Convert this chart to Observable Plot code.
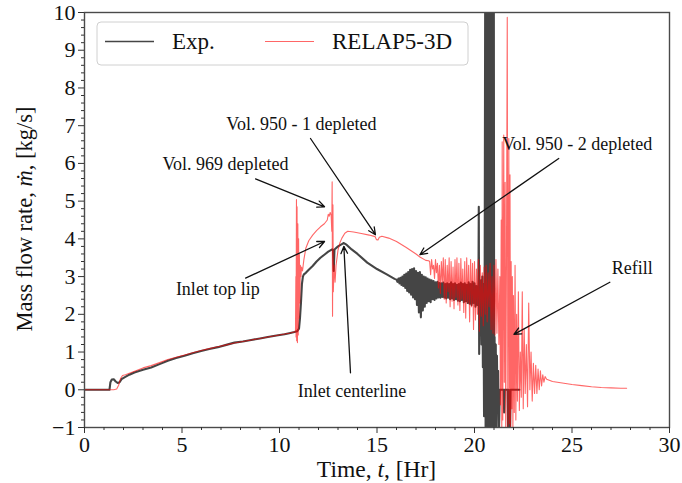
<!DOCTYPE html>
<html><head><meta charset="utf-8">
<script src="https://cdn.jsdelivr.net/npm/d3@7"></script>
<script src="https://cdn.jsdelivr.net/npm/@observablehq/plot@0.6"></script>
<style>body{margin:0;background:#fff;} svg{display:block;} svg text{font-family:'Liberation Serif','Times New Roman',serif;}</style>
</head><body><div id="chart"></div>
<script>
// ---- Data (time [Hr], mass flow rate [kg/s]) ----
const expPoints = [
 [0,0],[0.5,0],[1.0,0],[1.28,0],[1.33,0.2],[1.4,0.27],[1.5,0.28],[1.6,0.22],[1.7,0.18],[1.8,0.2],[1.9,0.28],[2.05,0.33],[2.3,0.4],[2.56,0.46],[3.0,0.53],[3.42,0.59],[3.85,0.68],[4.27,0.77],[4.7,0.84],[5.13,0.9],[5.55,0.97],[5.98,1.03],[6.4,1.08],[6.84,1.13],[7.27,1.19],[7.69,1.25],[8.12,1.28],[8.55,1.32],[9.0,1.36],[9.4,1.4],[9.85,1.44],[10.26,1.47],[10.5,1.5],[10.77,1.53],[10.9,1.55],[11.0,1.62],[11.05,1.9],[11.1,2.3],[11.15,2.8],[11.2,3.0],[11.25,3.06],[11.35,3.1],[11.5,3.18],[11.7,3.28],[11.9,3.4],[12.1,3.5],[12.3,3.58],[12.5,3.66],[12.7,3.72],[12.75,3.7],[12.78,3.15],[12.82,3.72],[13.0,3.8],[13.2,3.86],[13.3,3.89],[13.45,3.84],[13.7,3.72],[14.0,3.6],[14.5,3.37],[15.0,3.2],[15.5,3.06],[15.9,2.94],
 [16.00,2.92],[16.05,2.86],[16.10,2.95],[16.15,2.82],[16.20,2.97],[16.25,2.78],[16.30,3.00],[16.35,2.75],[16.40,3.05],[16.45,2.70],[16.50,3.08],[16.55,2.62],[16.60,3.12],[16.65,2.58],[16.70,3.18],[16.75,2.52],[16.80,3.20],[16.85,2.45],[16.90,3.22],[16.95,2.40],
 [17.00,3.15],[17.05,2.25],[17.10,3.10],[17.15,2.05],[17.20,3.12],[17.25,1.92],[17.30,3.05],[17.35,2.10],[17.40,3.00],[17.45,2.20],[17.50,2.98],[17.55,2.30],[17.60,2.95],[17.65,2.35],[17.70,2.92],[17.75,2.32],[17.80,2.90],[17.85,2.40],[17.90,2.88],[17.95,2.38],
 [18.00,2.85],[18.05,2.42],[18.10,2.86],[18.15,2.45],[18.20,2.83],[18.25,2.44],[18.30,2.82],[18.35,2.46],[18.40,2.84],[18.45,2.45],[18.50,2.80],[18.55,2.42],[18.60,2.82],[18.65,2.44],[18.70,2.80],[18.75,2.40],[18.80,2.85],[18.85,2.42],[18.90,2.80],[18.95,2.38],
 [19.00,2.82],[19.05,2.40],[19.10,2.78],[19.15,2.36],[19.20,2.80],[19.25,2.35],[19.30,2.84],[19.35,2.38],[19.40,2.80],[19.45,2.32],[19.50,2.82],[19.55,2.35],[19.60,2.78],[19.65,2.30],[19.70,2.85],[19.75,2.28],[19.80,2.80],[19.85,2.25],[19.90,2.86],[19.95,2.30],
 [20.00,2.82],[20.05,2.20],[20.10,2.75],[20.15,2.25],[20.20,2.60],[20.22,4.85],[20.24,0.95],[20.27,2.9],[20.30,1.6],[20.33,2.9],[20.36,1.2],[20.40,3.0],[20.43,0.6],[20.46,2.8],[20.49,-0.7],[20.52,2.5],
 [20.55,11],[20.57,-1.5],[20.59,11],[20.61,-1.5],[20.63,11],[20.65,-1.5],[20.67,11],[20.69,-1.5],[20.71,11],[20.73,-1.5],[20.75,11],[20.77,-1.5],[20.79,11],[20.81,-1.5],[20.83,11],[20.85,-1.5],[20.87,11],[20.89,-1.5],[20.91,11],[20.93,-1.5],[20.95,11],[20.97,-1.5],[20.99,11],
 [21.01,-1.5],[21.03,1.4],[21.06,-0.8],[21.09,1.2],[21.12,-1.2],[21.15,0.9],[21.18,-0.5],[21.21,0.5],[21.25,-1.2],[21.3,0],[21.5,0],[21.52,-0.6],[21.55,0],[21.7,0],[21.72,-1.2],[21.75,0],[21.82,-1.2],[21.85,0],[22.3,0]
];
const relapPoints = [
 [0,0],[1.5,0],[1.65,0.02],[1.75,0.12],[1.85,0.3],[1.95,0.38],[2.1,0.4],[2.3,0.44],[2.6,0.5],[3.0,0.58],[3.42,0.64],[3.85,0.72],[4.27,0.8],[4.7,0.86],[5.13,0.92],[5.55,0.98],[5.98,1.04],[6.4,1.09],[6.84,1.14],[7.27,1.19],[7.69,1.24],[8.12,1.28],[8.55,1.32],[9.0,1.36],[9.4,1.4],[9.85,1.44],[10.26,1.48],[10.5,1.5],[10.75,1.53],[10.82,1.56],
 [10.84,3.0],[10.85,1.4],[10.87,5.04],[10.88,1.3],[10.9,4.85],[10.92,1.25],[10.94,4.4],[10.96,1.45],[10.98,4.0],[11.0,1.9],[11.02,3.6],[11.04,2.3],[11.07,3.3],[11.1,3.0],[11.13,3.25],[11.18,3.15],[11.25,3.45],[11.35,3.75],[11.5,3.95],[11.7,4.1],[11.9,4.22],[12.1,4.32],[12.3,4.4],[12.45,4.5],[12.5,4.65],[12.55,4.6],[12.6,4.7],[12.65,4.62],[12.68,4.2],[12.7,5.51],[12.72,1.95],[12.74,4.9],[12.76,2.6],[12.8,3.3],[12.85,2.85],[12.9,3.3],[13.0,3.7],[13.1,3.9],[13.2,4.02],[13.35,4.15],[13.5,4.2],[13.8,4.18],[14.2,4.14],[14.6,4.1],[14.9,4.06],[14.97,3.98],[15.05,3.97],[15.12,4.04],[15.25,4.07],[15.6,4.02],[16.0,3.93],[16.5,3.77],[17.0,3.6],[17.2,3.52],[17.5,3.43],[17.65,3.42],
 [17.70,3.40],[17.75,3.05],[17.80,3.45],[17.85,3.20],[17.90,3.30],[17.95,2.95],[18.00,3.45],[18.05,3.10],[18.10,3.35],[18.15,2.70],[18.20,3.30],[18.25,2.55],[18.30,3.40],[18.35,2.85],[18.40,3.50],[18.45,2.40],[18.50,3.45],[18.55,2.30],[18.60,3.30],[18.65,2.60],[18.70,3.50],[18.75,2.20],[18.80,3.40],[18.85,2.35],[18.90,3.25],[18.95,2.15],
 [19.00,3.45],[19.05,2.45],[19.10,3.50],[19.15,2.25],[19.20,3.35],[19.25,2.10],[19.30,3.48],[19.35,2.40],[19.40,3.20],[19.45,2.05],[19.50,3.40],[19.55,1.90],[19.60,3.50],[19.65,2.30],[19.70,3.30],[19.75,1.80],[19.80,3.45],[19.85,2.20],[19.90,3.35],[19.95,1.60],
 [20.00,3.40],[20.05,1.85],[20.10,3.20],[20.15,2.00],[20.20,3.45],[20.25,1.55],[20.30,3.30],[20.35,1.95],[20.40,3.10],[20.45,1.70],[20.50,3.25],[20.55,2.0],[20.60,3.3],[20.65,1.8],[20.70,3.1],[20.75,2.2],[20.80,3.35],[20.85,1.6],[20.90,3.0],[20.95,1.5],
 [21.00,3.3],[21.05,1.45],[21.10,3.45],[21.15,1.5],[21.20,3.2],[21.25,1.2],[21.30,3.0],[21.33,-0.4],[21.37,4.5],[21.40,-1.0],[21.42,6.57],[21.45,-0.8],[21.50,6.75],[21.53,0.2],[21.57,5.5],[21.60,-1.1],[21.64,3.5],[21.68,9.87],[21.71,-1.1],[21.76,6.66],[21.79,-0.9],[21.82,5.7],[21.85,-1.2],[21.88,3.4],[21.91,-0.5],[21.94,3.0],[21.97,-1.0],
 [22.00,2.5],[22.04,-0.6],[22.08,3.3],[22.12,-0.8],[22.16,2.0],[22.20,-0.3],[22.25,2.6],[22.30,-0.55],[22.35,1.0],[22.40,-0.2],[22.45,2.6],[22.50,-0.5],[22.55,1.6],[22.60,-0.1],[22.66,1.2],[22.72,-0.45],[22.78,2.3],[22.84,0.0],[22.90,1.0],[22.96,-0.3],
 [23.02,0.7],[23.08,-0.1],[23.14,0.65],[23.20,-0.1],[23.26,0.55],[23.32,0.0],[23.38,0.5],[23.44,0.1],[23.50,0.4],[23.56,0.2],[23.62,0.35],[23.7,0.28],[24.0,0.22],[24.5,0.18],[25.0,0.14],[25.5,0.11],[26.0,0.08],[26.5,0.06],[27.0,0.05],[27.5,0.04],[27.8,0.04]
];
const seriesNames = ["Exp.", "RELAP5-3D"];
const xTicks = [0, 5, 10, 15, 20, 25, 30];
const xMinor = [1,2,3,4,6,7,8,9,11,12,13,14,16,17,18,19,21,22,23,24,26,27,28,29];
const yTicks = [-1, 0, 1, 2, 3, 4, 5, 6, 7, 8, 9, 10];
const yMinor = [-0.8,-0.6,-0.4,-0.2,0.2,0.4,0.6,0.8,1.2,1.4,1.6,1.8,2.2,2.4,2.6,2.8,3.2,3.4,3.6,3.8,4.2,4.4,4.6,4.8,5.2,5.4,5.6,5.8,6.2,6.4,6.6,6.8,7.2,7.4,7.6,7.8,8.2,8.4,8.6,8.8,9.2,9.4,9.6,9.8];
const annotations = [
 {label: "Vol. 969 depleted",     tx: 7.23,  ty: 5.97, x1: 8.77,  y1: 5.59, x2: 12.31, y2: 4.85},
 {label: "Vol. 950 - 1 depleted", tx: 11.12, ty: 7.05, x1: 11.59, y1: 6.66, x2: 14.92, y2: 4.11},
 {label: "Vol. 950 - 2 depleted", tx: 25.27, ty: 6.5,  x1: 24.32, y1: 6.13, x2: 17.2,  y2: 3.58},
 {label: "Refill",                tx: 28.09, ty: 3.23, x1: 26.94, y1: 2.85, x2: 22.02, y2: 1.47},
 {label: "Inlet top lip",         tx: 6.84,  ty: 2.66, x1: 8.26,  y1: 2.96, x2: 12.31, y2: 3.93},
 {label: "Inlet centerline",      tx: 13.72, ty: -0.05, x1: 13.64, y1: 0.45, x2: 13.3, y2: 3.8}
];

const expData = expPoints.map(([t, m]) => ({t, m}));
const relapData = relapPoints.map(([t, m]) => ({t, m}));
const FONT = "'Liberation Serif', 'Times New Roman', serif";

const chart = Plot.plot({
  width: 682, height: 483,
  marginLeft: 84, marginRight: 13, marginTop: 12, marginBottom: 56,
  style: {fontFamily: FONT, fontSize: "22px", color: "#111", background: "#fff"},
  x: {domain: [0, 30], label: null},
  y: {domain: [-1, 10], label: null},
  marks: [
    Plot.line(expData, {x: "t", y: "m", stroke: "#2b2b2b", strokeOpacity: 0.88, strokeWidth: 2.1, clip: true}),
    Plot.line(relapData, {x: "t", y: "m", stroke: "#ff0000", strokeOpacity: 0.6, strokeWidth: 1.1, clip: true}),
    Plot.frame({stroke: "#4a4a4a", strokeWidth: 1.4}),
    Plot.axisX({ticks: xTicks, tickSize: 6, tickPadding: 3, fontSize: 22, label: null, stroke: "#333"}),
    Plot.axisX({ticks: xMinor, tickSize: 3, tickFormat: () => "", label: null, stroke: "#333"}),
    Plot.axisY({ticks: yTicks, tickSize: 6, tickPadding: 3, fontSize: 22, label: null, stroke: "#333"}),
    Plot.axisY({ticks: yMinor, tickSize: 3, tickFormat: () => "", label: null, stroke: "#333"}),
    Plot.arrow(annotations, {x1: "x1", y1: "y1", x2: "x2", y2: "y2", stroke: "#111", strokeWidth: 1.3, headLength: 9, headAngle: 50, insetStart: 0, insetEnd: 0}),
    Plot.text(annotations, {x: "tx", y: "ty", text: "label", fontSize: 18, fill: "#111", textAnchor: "middle", lineAnchor: "middle"})
  ]
});

const svg = d3.select(chart);
// axis titles
const xt = svg.append("text").attr("x", 376.5).attr("y", 477).attr("text-anchor", "middle")
  .attr("font-size", 23.5).attr("fill", "#111");
xt.append("tspan").text("Time, ");
xt.append("tspan").attr("font-style", "italic").text("t");
xt.append("tspan").text(", [Hr]");
const yt = svg.append("text").attr("transform", "translate(27,219) rotate(-90)").attr("text-anchor", "middle")
  .attr("dominant-baseline", "middle").attr("font-size", 22.5).attr("fill", "#111");
yt.append("tspan").text("Mass flow rate, ");
yt.append("tspan").attr("font-style", "italic").text("ṁ");
yt.append("tspan").text(", [kg/s]");
// legend
const lg = svg.append("g");
lg.append("rect").attr("x", 97).attr("y", 22).attr("width", 371).attr("height", 43).attr("rx", 4)
  .attr("fill", "#fff").attr("fill-opacity", 0.85).attr("stroke", "#d0d0d0").attr("stroke-width", 1);
const legendItems = [
  {name: seriesNames[0], x0: 105, tx: 172, stroke: "#2b2b2b", op: 0.88, w: 1.4},
  {name: seriesNames[1], x0: 265, tx: 332, stroke: "#ff0000", op: 0.6, w: 1.1}
];
legendItems.forEach(d => {
  lg.append("line").attr("x1", d.x0).attr("x2", d.x0 + 49).attr("y1", 41.5).attr("y2", 41.5)
    .attr("stroke", d.stroke).attr("stroke-opacity", d.op).attr("stroke-width", d.w);
  lg.append("text").attr("x", d.tx).attr("y", 49).attr("text-anchor", "start").attr("font-size", 23)
    .attr("fill", "#111").text(d.name);
});
document.getElementById("chart").appendChild(chart);
</script>
</body></html>
